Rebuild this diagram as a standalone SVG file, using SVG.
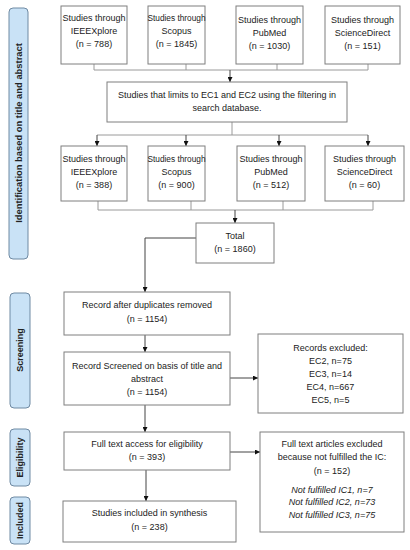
<svg xmlns="http://www.w3.org/2000/svg" width="410" height="550" viewBox="0 0 410 550">
<defs>
<marker id="arr" viewBox="0 0 6 6" refX="6" refY="3" markerWidth="5" markerHeight="5" orient="auto" markerUnits="userSpaceOnUse">
<path d="M0,0 L6,3 L0,6 z" fill="#111"/>
</marker>
<style>
.box{fill:#fff;stroke:#7f7f7f;stroke-width:1}
.side{fill:#c9e2f6;stroke:#6f8aa3;stroke-width:1}
.t{font-family:"Liberation Sans",Arial,sans-serif;font-size:9px;fill:#222;text-anchor:middle}
.n{font-size:8.3px}
.i{font-style:italic}
.s{font-family:"Liberation Sans",Arial,sans-serif;font-size:9px;font-weight:bold;fill:#222;text-anchor:middle}
.ln{fill:none;stroke:#9a9a9a;stroke-width:1}
.ar{fill:none;stroke:#444;stroke-width:1;marker-end:url(#arr)}
</style>
</defs>
<rect width="410" height="550" fill="#fff"/>

<g id="side-identification"><rect class="side" x="9" y="8" width="19" height="251" rx="4"/><text class="s" style="font-size:9.4px" transform="translate(21.8,133) rotate(-90)">Identification based on title and abstract</text></g>
<g id="side-screening"><rect class="side" x="10" y="293" width="20" height="115" rx="4"/><text class="s" transform="translate(23,350) rotate(-90)">Screening</text></g>
<g id="side-eligibility"><rect class="side" x="10" y="429" width="20" height="57" rx="4"/><text class="s" transform="translate(23,457.5) rotate(-90)">Eligibility</text></g>
<g id="side-included"><rect class="side" x="10" y="497" width="20" height="47" rx="4"/><text class="s" transform="translate(23,520.5) rotate(-90)">Included</text></g>

<g id="connectors">
<path class="ln" d="M94,64 V70 M186,64 V70 M277,64 V70 M368,64 V70 M94,70 H368"/>
<path class="ar" d="M230,70 V82"/>
<path class="ln" d="M232,122 V135 M97,135 H368"/>
<path class="ar" d="M97,135 V146"/>
<path class="ar" d="M186,135 V146"/>
<path class="ar" d="M279,135 V146"/>
<path class="ar" d="M368,135 V146"/>
<path class="ln" d="M98,201 V210 M191,201 V210 M283,201 V210 M373,201 V210 M98,210 H373"/>
<path class="ar" d="M235,210 V223"/>
<path class="ar" d="M196,238 H145 V292"/>
<path class="ar" d="M145,335 V352"/>
<path class="ar" d="M230,378 H258"/>
<path class="ar" d="M145,405 V432"/>
<path class="ar" d="M230,452 H260"/>
<path class="ar" d="M146,470 V501"/>
</g>

<g id="n-ieee1"><rect class="box" x="61" y="6" width="66" height="58"/><text class="t" x="94" y="21">Studies through</text><text class="t" x="94" y="34">IEEEXplore</text><text class="t" x="94" y="47">(n = 788)</text></g>
<g id="n-scopus1"><rect class="box" x="148" y="6" width="57" height="58"/><text class="t n" x="176.5" y="21">Studies through</text><text class="t" x="176.5" y="34">Scopus</text><text class="t" x="176.5" y="47">(n = 1845)</text></g>
<g id="n-pubmed1"><rect class="box" x="236" y="6" width="67" height="58"/><text class="t" x="269.5" y="23">Studies through</text><text class="t" x="269.5" y="36">PubMed</text><text class="t" x="269.5" y="49">(n = 1030)</text></g>
<g id="n-sd1"><rect class="box" x="325" y="6" width="75" height="58"/><text class="t" x="362.5" y="23">Studies through</text><text class="t" x="362.5" y="36">ScienceDirect</text><text class="t" x="362.5" y="49">(n = 151)</text></g>

<g id="n-filter"><rect class="box" x="107" y="82" width="240" height="40"/><text class="t" x="227" y="98">Studies that limits to EC1 and EC2 using the filtering in</text><text class="t" x="227" y="111">search database.</text></g>

<g id="n-ieee2"><rect class="box" x="61" y="146" width="66" height="55"/><text class="t" x="94" y="162">Studies through</text><text class="t" x="94" y="175">IEEEXplore</text><text class="t" x="94" y="188">(n = 388)</text></g>
<g id="n-scopus2"><rect class="box" x="148" y="146" width="57" height="55"/><text class="t n" x="176.5" y="162">Studies through</text><text class="t" x="176.5" y="175">Scopus</text><text class="t" x="176.5" y="188">(n = 900)</text></g>
<g id="n-pubmed2"><rect class="box" x="237" y="146" width="68" height="55"/><text class="t" x="271" y="162">Studies through</text><text class="t" x="271" y="175">PubMed</text><text class="t" x="271" y="188">(n = 512)</text></g>
<g id="n-sd2"><rect class="box" x="325" y="146" width="79" height="55"/><text class="t" x="364.5" y="162">Studies through</text><text class="t" x="364.5" y="175">ScienceDirect</text><text class="t" x="364.5" y="188">(n = 60)</text></g>

<g id="n-total"><rect class="box" x="196" y="223" width="78" height="40"/><text class="t" x="235" y="239">Total</text><text class="t" x="235" y="252">(n = 1860)</text></g>

<g id="n-dup"><rect class="box" x="64" y="292" width="166" height="43"/><text class="t" x="147" y="308">Record after duplicates removed</text><text class="t" x="147" y="322">(n = 1154)</text></g>
<g id="n-screened"><rect class="box" x="64" y="352" width="166" height="53"/><text class="t" x="147" y="369">Record Screened on basis of title and</text><text class="t" x="147" y="382">abstract</text><text class="t" x="147" y="395">(n = 1154)</text></g>
<g id="n-excl1"><rect class="box" x="258" y="334" width="145" height="79"/><text class="t" x="330.5" y="351">Records excluded:</text><text class="t" x="330.5" y="364">EC2, n=75</text><text class="t" x="330.5" y="377">EC3, n=14</text><text class="t" x="330.5" y="390">EC4, n=667</text><text class="t" x="330.5" y="403">EC5, n=5</text></g>

<g id="n-fulltext"><rect class="box" x="64" y="432" width="166" height="38"/><text class="t" x="147" y="447">Full text access for eligibility</text><text class="t" x="147" y="460">(n = 393)</text></g>
<g id="n-excl2"><rect class="box" x="260" y="432" width="144" height="100"/><text class="t" x="332" y="447">Full text articles excluded</text><text class="t" x="332" y="460">because not fulfilled the IC:</text><text class="t" x="332" y="474">(n = 152)</text><text class="t i" x="332" y="493">Not fulfilled IC1, n=7</text><text class="t i" x="332" y="505">Not fulfilled IC2, n=73</text><text class="t i" x="332" y="518">Not fulfilled IC3, n=75</text></g>

<g id="n-included"><rect class="box" x="63" y="501" width="173" height="41"/><text class="t" x="149.5" y="516">Studies included in synthesis</text><text class="t" x="149.5" y="530">(n = 238)</text></g>
</svg>
